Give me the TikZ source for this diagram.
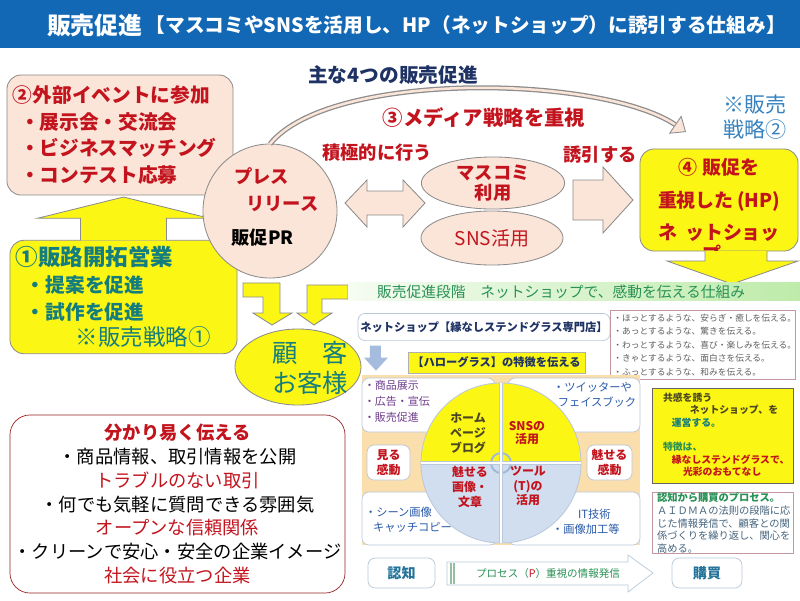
\documentclass[tikz,border=0pt]{standalone}
\usepackage{fontspec}
\setmainfont{Noto Sans CJK JP}
\usetikzlibrary{arrows.meta, positioning, calc, shapes.geometric}
\definecolor{titleblue}{RGB}{18,104,180}
\definecolor{navytext}{RGB}{30,50,100}
\definecolor{redtext}{RGB}{195,20,30}
\definecolor{tealtext}{RGB}{20,125,125}
\definecolor{noteblue}{RGB}{55,130,190}
\definecolor{pinkfill}{RGB}{251,228,216}
\definecolor{boxyellow}{RGB}{252,246,20}
\definecolor{linegray}{RGB}{140,140,140}
\definecolor{beige}{RGB}{250,222,172}
\definecolor{paleblue}{RGB}{208,222,240}
\definecolor{framblue}{RGB}{160,185,215}
\definecolor{webline}{RGB}{185,200,220}
\definecolor{arrowblue}{RGB}{165,188,222}
\definecolor{greentext}{RGB}{40,145,85}
\definecolor{greenline}{RGB}{150,190,160}
\definecolor{bannergreen}{RGB}{190,235,170}
\definecolor{purpletext}{RGB}{110,60,140}
\definecolor{linkblue}{RGB}{40,90,170}
\definecolor{darkred}{RGB}{150,35,35}
\definecolor{listgray}{RGB}{95,95,95}
\definecolor{pinkline}{RGB}{195,150,160}
\definecolor{olivetext}{RGB}{75,70,35}
\definecolor{slatetext}{RGB}{70,100,125}
\definecolor{tealblue}{RGB}{35,115,155}
\newcommand{\setfs}[2]{\fontsize{#1}{#2}\selectfont}

\begin{document}
\begin{tikzpicture}[x=0.025cm, y=-0.025cm,
    every node/.style={inner sep=0pt, outer sep=0pt},
    pinkbox/.style={draw=linegray, fill=pinkfill, rounded corners=0.35cm, line width=0.6pt},
    yelbox/.style={draw=linegray, fill=boxyellow, rounded corners=0.35cm, line width=0.6pt},
    blockarr/.style={draw=linegray, line width=0.6pt},
    webbox/.style={draw=webline, fill=white, rounded corners=0.18cm, line width=0.5pt},
    redlabel/.style={text=redtext, font=\bfseries\setfs{13}{16}},
    bluelist/.style={anchor=west, align=left, text=linkblue, font=\setfs{8}{10.7}},
    quadtext/.style={align=center, text=redtext, font=\bfseries\setfs{8.5}{10.4}}
  ]
  \useasboundingbox (0,0) rectangle (800,600);

  % title bar
  \fill[titleblue] (0,0) rectangle (800,48);
  \node[anchor=west, text=white, font=\bfseries\setfs{17}{20}] (title) at (47,25) {販売促進};
  \node[right=0.08cm of title, text=white, font=\bfseries\setfs{14}{17}] (subtitle)
    {【マスコミやSNSを活用し、HP（ネットショップ）に誘引する仕組み】};
  \node[text=navytext, font=\bfseries\setfs{14}{17}] (main4) at (393,75) {主な4つの販売促進};

  % left column
  \node[pinkbox, minimum width=5.65cm, minimum height=3cm, text width=5.35cm, inner sep=0.15cm,
        align=left, text=redtext, font=\bfseries\setfs{14}{19}] (event) at (120,135)
    {②外部イベントに参加\\
     \hspace*{0.18cm}・展示会・交流会\\
     \hspace*{0.18cm}・ビジネスマッチング\\
     \hspace*{0.18cm}・コンテスト応募};
  \node[yelbox, minimum width=5.675cm, minimum height=2.75cm, text width=5.375cm, inner sep=0.15cm,
        align=left, text=tealtext, font=\bfseries\setfs{14}{19}] (sales) at (123.5,297)
    {{\setfs{16}{19}①販路開拓営業}\\
     \hspace*{0.25cm}・提案を促進\\
     \hspace*{0.25cm}・試作を促進\\
     \hspace*{1.5cm}{\mdseries\setfs{16}{19}※販売戦略①}};
  \draw[blockarr, fill=boxyellow] ($(sales.north)+(-43,0)$) -- ++(0,-22) -- ++(-43,0)
    -- ($(sales.north |- event.south)+(0,2)$) -- ($(sales.north)+(86,-22)$) -- ++(-43,0) -- ++(0,22);

  % press release
  \node[circle, draw=linegray, fill=pinkfill, line width=0.6pt, minimum size=3.35cm] (press) at (270,211) {};
  \node[align=left, font=\bfseries\setfs{13}{18.5}] (presstxt) at (275,207)
    {\hspace*{0.07cm}\textcolor{redtext}{プレス}\\
     \hspace*{0.37cm}\textcolor{redtext}{リリース}\\[0.2cm]
     販促PR};
  \coordinate (dblL) at ($(press.east)+(8,-8)$);
  \draw[blockarr, fill=pinkfill] (dblL) -- ++(22,-23) -- ++(0,11) -- ++(36,0) -- ++(0,-11) -- ++(22,23)
    -- ++(-22,24) -- ++(0,-12) -- ++(-36,0) -- ++(0,12) -- cycle;

  % media
  \node[ellipse, draw=linegray, fill=pinkfill, line width=0.6pt, minimum width=3.55cm, minimum height=1.35cm,
        text=redtext, font=\setfs{13.5}{16}] (sns) at (492,238) {SNS活用};
  \node[ellipse, draw=linegray, fill=pinkfill, line width=0.6pt, minimum width=3.58cm, minimum height=1.3cm,
        align=center, text=redtext, font=\bfseries\setfs{13}{14.5}] (mass) at (493,183) {マスコミ\\利用};
  \node[redlabel] (active) at (377,153) {積極的に行う};
  \node[text=redtext, font=\bfseries\setfs{14.5}{17}] (media) at (484,118) {③メディア戦略を重視};
  \node[redlabel] (lure) at (600,155) {誘引する};
  \node[text=noteblue, font=\setfs{15}{17.8}, align=center] (note2) at (755,117) {※販売\\戦略②};

  % net shop
  \node[yelbox, minimum width=3.95cm, minimum height=2.55cm, align=center, text=redtext,
        font=\bfseries\setfs{13.5}{23}] (shop) at (719,200)
    {④ 販促を\\重視した\,(HP)\\ネ\hspace{0.2cm}ットショッ};
  \begin{scope}
    \clip (shop.south west) rectangle (shop.north east);
    \node[text=redtext, font=\bfseries\setfs{13.5}{16}] (shopcut) at (712,254) {プ};
  \end{scope}
  \draw[blockarr, fill=pinkfill] ($(shop.west)+(-7,0)$) -- ++(-30,-33) -- ++(0,13) -- ++(-30,0)
    -- ++(0,40) -- ++(30,0) -- ++(0,13) -- cycle;
  \draw[blockarr, fill=boxyellow] ($(shop.south)+(-14,0)$) -- ++(0,10) -- ++(-38,0) -- ++(65,23)
    -- ++(66,-23) -- ++(-31,0) -- ++(0,-10);

  % curved arrow
  \coordinate (bandend) at (675,124.5);
  \coordinate (curveend) at (686,132);
  \draw[draw=linegray, double=pinkfill, double distance=1.8pt, line width=0.9pt]
    (press.north) .. controls (330,70) and (600,75) .. (bandend);
  \draw[linegray, line width=0.6pt, -{Triangle[length=0.33cm, width=0.55cm, fill=pinkfill]}] (bandend) -- (curveend);

  % customer
  \node[ellipse, draw=linegray, fill=boxyellow, line width=0.6pt, minimum width=3.15cm, minimum height=1.9cm] (cust) at (298,367) {};
  \node[align=left, text=tealtext, font=\setfs{18}{21.3}] (custtxt) at (310,368) {顧　客\\お客様};
  \coordinate (ltip) at ($(cust.north)+(-26,-4)$);
  \coordinate (rtip) at ($(cust.north)+(16,-4)$);
  \draw[blockarr, fill=boxyellow] (ltip) -- ++(-19,-12) -- ++(10,0) -- ++(0,-16) -- ++(-20,0) -- ++(0,-14)
    -- ++(37,0) -- ++(0,30) -- ++(12,0) -- cycle;
  \draw[blockarr, fill=boxyellow] (rtip) -- ++(18,-12) -- ++(-10,0) -- ++(0,-14) -- ++(26,0) -- ++(0,-14)
    -- ++(-41,0) -- ++(0,28) -- ++(-10,0) -- cycle;

  % values
  \node[draw=darkred, fill=white, rounded corners=0.5cm, line width=0.5pt, minimum width=8.375cm,
        minimum height=4.45cm, align=center, font=\setfs{13}{17}] (values) at (177.5,504)
    {\textcolor{redtext}{\bfseries 分かり易く伝える}\\
     ・商品情報、取引情報を公開\\
     \textcolor{redtext}{トラブルのない取引}\\
     ・何でも気軽に質問できる雰囲気\\
     \textcolor{redtext}{オープンな信頼関係}\\
     ・クリーンで安心・安全の企業イメージ\\
     \textcolor{redtext}{社会に役立つ企業}};

  % web page
  \node[left color=bannergreen!15, right color=bannergreen, minimum width=11.3cm, minimum height=0.43cm,
        anchor=west] (banner) at (348,291.5) {};
  \node[anchor=west, text=greentext, font=\setfs{10.5}{12}] (bannertxt) at (377,292)
    {販売促進段階　ネットショップで、感動を伝える仕組み};
  \node[webbox, minimum width=6.3cm, minimum height=0.68cm, text=navytext, font=\bfseries\setfs{8}{10}] (netshop) at (484,327)
    {ネットショップ【縁なしステンドグラス専門店】};
  \node[draw=pinkline, fill=white, line width=0.5pt, minimum width=4.63cm, minimum height=1.68cm, text width=4.45cm,
        align=left, inner sep=0.09cm, text=listgray, font=\setfs{6.2}{9.6}] (feel) at (702.5,345)
    {・ほっとするような、安らぎ・癒しを伝える。\\
     ・あっとするような、驚きを伝える。\\
     ・わっとするような、喜び・楽しみを伝える。\\
     ・きゃとするような、面白さを伝える。\\
     ・ふっとするような、和みを伝える。};
  \coordinate (bluetip) at ($(netshop.south west)+(18,30)$);
  \fill[arrowblue] (bluetip) -- ++(-12,-13) -- ++(6,0) -- ++(0,-12) -- ++(11,0) -- ++(0,12) -- ++(7,0) -- cycle;

  \node[fill=beige, minimum width=6.95cm, minimum height=4.25cm] (panel) at (501,460) {};
  \node[webbox, minimum width=3.325cm, minimum height=1.35cm] (tlbox) at (428.5,405) {};
  \node[webbox, minimum width=3.3cm, minimum height=1.35cm] (trbox) at (574,405) {};
  \node[webbox, minimum width=3.375cm, minimum height=1.325cm] (blbox) at (429.5,518.5) {};
  \node[webbox, minimum width=3.3cm, minimum height=1.325cm] (brbox) at (574,518.5) {};
  \node[webbox, minimum width=1.075cm, minimum height=0.875cm, align=left, text=redtext,
        font=\bfseries\setfs{8.5}{11}] (see) at (388.5,462.5) {見る\\感動};
  \node[webbox, minimum width=1.125cm, minimum height=0.875cm, align=center, text=redtext,
        font=\bfseries\setfs{8.5}{11}] (charm) at (609.5,462.5) {魅せる\\感動};
  \node[draw=linegray!70, fill=boxyellow, line width=0.4pt, minimum width=4.42cm, minimum height=0.52cm,
        text=navytext, font=\bfseries\setfs{8}{10}] (halo) at (496.5,362.5) {【ハローグラス】の特徴を伝える};

  \coordinate (hubc) at (501,463);
  \begin{scope}
    \clip (hubc) circle[radius=80];
    \fill[boxyellow] (421,383) rectangle (581,463);
    \fill[paleblue] (421,463) rectangle (581,543);
  \end{scope}
  \node[circle, draw=webline, line width=0.6pt, minimum size=4cm] (hub) at (hubc) {};
  \draw[framblue, line width=1.4pt] (hubc) circle[radius=10];
  \draw[webline, line width=2.2pt] (hub.west) -- (hub.east) (hub.north) -- (hub.south);
  \draw[white, line width=1.2pt] (hub.west) -- (hub.east) (hub.north) -- (hub.south);
  \node[align=center, text=olivetext, font=\bfseries\setfs{8.5}{10.7}] (qhome) at (468,433) {ホーム\\ページ\\ブログ};
  \node[quadtext, font=\bfseries\setfs{8.5}{9.5}] (qsns) at (527,433) {SNSの\\活用};
  \node[quadtext] (qimg) at (470,487) {魅せる\\画像・\\文章};
  \node[quadtext] (qtool) at (528,486) {ツール\\(T)の\\活用};

  \node[anchor=west, align=left, text=purpletext, font=\setfs{7.8}{11.4}] (tltxt) at (364,401)
    {・商品展示\\・広告・宣伝\\・販売促進};
  \node[bluelist] (trtxt) at (553,395) {・ツイッターや\\\hspace*{0.12cm}フェイスブック};
  \node[bluelist] (bltxt) at (365,520) {・シーン画像\\\hspace*{0.2cm}キャッチコピー};
  \node[bluelist] (brtxt) at (552,522) {\hspace*{0.65cm}IT技術\\・画像加工等};

  \node[draw=black!60, fill=boxyellow, line width=0.5pt, minimum width=3.525cm, minimum height=2.375cm] (empathy) at (722.5,435.5) {};
  \node[anchor=west, align=left, text=olivetext, font=\bfseries\setfs{7}{8.9}] (emptxt) at (663,434.5)
    {共感を誘う\\
     \hspace*{0.67cm}ネットショップ、を\\
     \hspace*{0.22cm}\textcolor{tealtext}{運営する。}\\[0.3cm]
     \textcolor{greentext}{特徴は、}\\
     \hspace*{0.22cm}\textcolor{redtext}{縁なしステンドグラスで、}\\
     \hspace*{0.5cm}\textcolor{redtext}{光彩のおもてなし}};
  \node[draw=pinkline, fill=white, line width=0.5pt, minimum width=3.525cm, minimum height=1.525cm] (aidma) at (722.5,522.5) {};
  \node[anchor=west, align=left, text=slatetext, font=\setfs{7.3}{9.2}] (aidmatxt) at (657,523)
    {\textcolor{greentext}{\bfseries 認知から購買のプロセス。}\\
     ＡＩＤＭＡの法則の段階に応\\
     じた情報発信で、顧客との関\\
     係づくりを繰り返し、関心を\\
     高める。};

  % process row
  \node[webbox, minimum width=1.675cm, minimum height=0.75cm, text=tealblue, font=\bfseries\setfs{10}{12}] (aware) at (401.5,573) {認知};
  \node[webbox, minimum width=1.75cm, minimum height=0.75cm, text=tealblue, font=\bfseries\setfs{10}{12}] (buy) at (707,573) {購買};
  \coordinate (proctip) at ($(buy.west)+(-19,0)$);
  \draw[draw=webline, fill=white, line width=0.5pt] (proctip) -- ++(-25,-18) -- ++(0,7) -- ++(-181,0)
    -- ++(0,23) -- ++(181,0) -- ++(0,7) -- cycle;
  \draw[greenline, line width=0.8pt] ($(aware.east)+(16,-10)$) -- ++(0,21) ($(aware.east)+(19,-10)$) -- ++(0,21);
  \node[text=greentext, font=\setfs{7.5}{9}] (proctxt) at (548,573) {プロセス（\textcolor{redtext}{P}）重視の情報発信};
\end{tikzpicture}
\end{document}
